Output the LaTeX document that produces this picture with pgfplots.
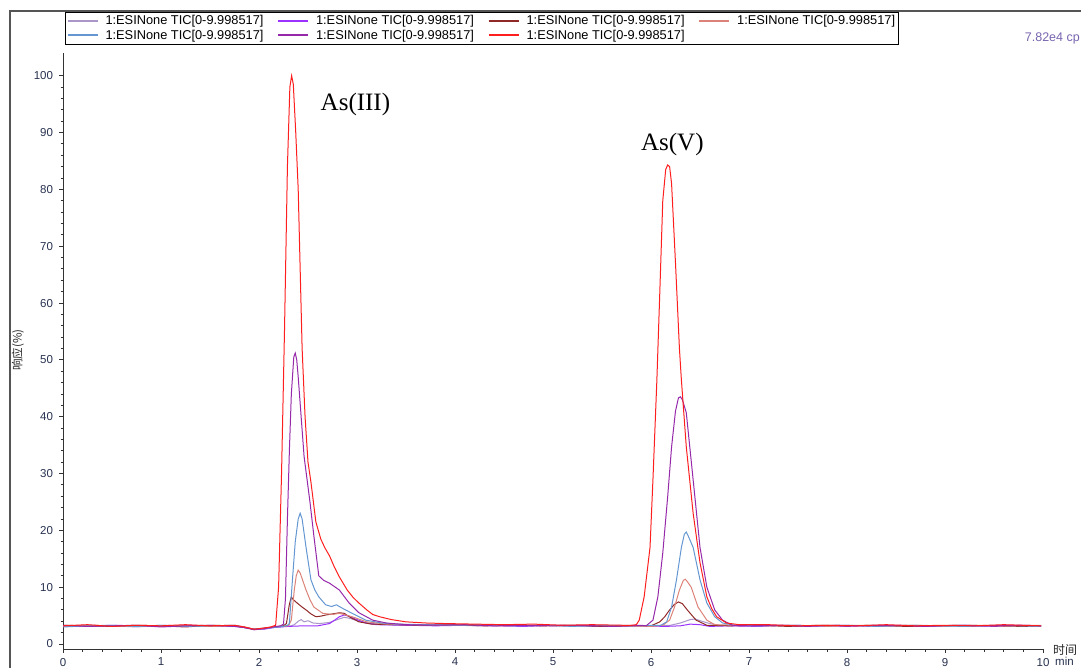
\documentclass[border=0pt]{standalone}
\usepackage{fontspec}
\setmainfont{Liberation Sans}
\newfontfamily\tnr{Liberation Serif}
\newfontfamily\cjk{Noto Sans CJK SC}
\usepackage{pgfplots}
\pgfplotsset{compat=1.18}
\definecolor{cA}{RGB}{170,150,200}
\definecolor{cB}{RGB}{155,50,255}
\definecolor{cC}{RGB}{145,40,40}
\definecolor{cD}{RGB}{220,130,120}
\definecolor{cE}{RGB}{100,150,210}
\definecolor{cF}{RGB}{150,40,170}
\definecolor{cG}{RGB}{255,30,30}
\definecolor{tk}{RGB}{40,50,80}
\definecolor{cps}{RGB}{120,100,175}
\begin{document}
\begin{tikzpicture}
\path[use as bounding box] (0,0) rectangle (1081pt,-667pt);
\draw[line width=1.6pt, color={rgb,255:red,85;green,85;blue,85}] (10pt,-680pt) -- (10pt,-11pt) -- (1100pt,-11pt);
\begin{axis}[
  at={(63pt,-649pt)}, anchor=south west,
  scale only axis, width=980pt, height=596pt,
  xmin=0, xmax=10, ymin=-0.88, ymax=104,
  axis x line=bottom, axis y line=left,
  axis line style={-, line width=1pt, color=black!80},
  xtick={0,1,...,10}, minor x tick num=4,
  ytick={0,10,...,100}, minor y tick num=4,
  tick align=outside, major tick length=4pt, minor tick length=2.5pt,
  every tick/.style={line width=0.9pt, color=black!80},
  /pgf/number format/assume math mode=true,
  ticklabel style={font=\fontsize{11.5}{13}\selectfont, text=tk},
  yticklabel style={xshift=-2.5pt},
  xticklabel style={yshift=-1.5pt},
  every axis plot/.append style={line width=1pt},
  legend columns=4,
  legend cell align=left,
  legend image code/.code={\draw[#1, line width=1.6pt] (0pt,0pt) -- (30pt,0pt);},
  legend style={at={(rel axis cs:0,1)}, anchor=south west, xshift=2pt, yshift=8.5pt,
    draw=black, line width=0.8pt, font=\fontsize{12.8}{15}\selectfont,
    inner sep=1.5pt, row sep=-0.5pt,
    /tikz/every odd column/.append style={column sep=5pt},
    /tikz/every even column/.append style={column sep=12pt}},
]
\addplot[cA] coordinates {(0,3.1)(0.25,3.3)(0.5,3.2)(0.75,3.0)(1,3.3)(1.25,3.2)(1.5,3.1)(1.75,3.3)(1.85,3.0)(1.95,2.6)(2.05,2.7)(2.15,3.0)(2.25,3.1)(2.33,3.2)(2.36,3.4)(2.40,4.0)(2.43,4.3)(2.46,3.9)(2.50,4.1)(2.55,3.7)(2.62,3.6)(2.72,3.8)(2.80,4.3)(2.87,4.7)(2.93,4.5)(3.02,4.0)(3.15,3.6)(3.3,3.4)(3.6,3.3)(3.9,3.4)(4.2,3.2)(4.5,3.3)(4.8,3.2)(5.1,3.3)(5.4,3.1)(5.7,3.3)(6.0,3.2)(6.2,3.3)(6.3,3.7)(6.4,4.3)(6.45,4.4)(6.52,4.0)(6.6,3.6)(6.7,3.3)(6.9,3.2)(7.2,3.3)(7.5,3.1)(7.8,3.3)(8.1,3.2)(8.4,3.1)(8.7,3.3)(9.0,3.2)(9.3,3.1)(9.6,3.3)(9.98,3.2)};
\addlegendentry{1:ESINone TIC[0-9.998517]}
\addplot[cB] coordinates {(0,3.2)(0.25,3.1)(0.5,3.3)(0.75,3.2)(1,3.1)(1.25,3.3)(1.5,3.2)(1.75,3.1)(1.85,2.9)(1.95,2.6)(2.05,2.6)(2.15,2.9)(2.3,3.1)(2.45,3.2)(2.6,3.2)(2.72,3.6)(2.78,4.3)(2.82,4.8)(2.87,5.1)(2.92,4.9)(2.97,4.5)(3.09,3.7)(3.2,3.4)(3.5,3.3)(3.8,3.2)(4.1,3.3)(4.4,3.2)(4.7,3.1)(5.0,3.3)(5.3,3.2)(5.6,3.1)(5.9,3.2)(6.15,3.1)(6.3,3.2)(6.4,3.5)(6.5,3.4)(6.6,3.1)(6.8,3.2)(7.1,3.1)(7.4,3.3)(7.7,3.2)(8.0,3.1)(8.3,3.3)(8.6,3.2)(8.9,3.1)(9.2,3.3)(9.5,3.1)(9.8,3.3)(9.98,3.2)};
\addlegendentry{1:ESINone TIC[0-9.998517]}
\addplot[cC] coordinates {(0,3.3)(0.25,3.2)(0.5,3.1)(0.75,3.3)(1,3.2)(1.25,3.0)(1.5,3.3)(1.75,3.2)(1.85,2.9)(1.95,2.6)(2.05,2.8)(2.15,3.0)(2.25,3.2)(2.28,3.6)(2.31,7)(2.33,8.3)(2.35,7.8)(2.39,7.2)(2.44,6.5)(2.48,6.0)(2.53,5.3)(2.58,4.8)(2.63,4.9)(2.68,5.1)(2.75,5.3)(2.82,5.5)(2.87,5.4)(2.92,4.8)(3.02,3.9)(3.15,3.5)(3.4,3.4)(3.7,3.3)(4.0,3.4)(4.3,3.2)(4.6,3.3)(4.9,3.2)(5.2,3.3)(5.5,3.1)(5.8,3.2)(6.0,3.2)(6.09,3.9)(6.14,4.8)(6.19,6.0)(6.24,7.0)(6.28,7.4)(6.32,7.1)(6.37,6.0)(6.46,4.2)(6.57,3.3)(6.8,3.2)(7.1,3.3)(7.4,3.1)(7.7,3.3)(8.0,3.2)(8.3,3.3)(8.6,3.1)(8.9,3.2)(9.2,3.3)(9.5,3.2)(9.8,3.1)(9.98,3.2)};
\addlegendentry{1:ESINone TIC[0-9.998517]}
\addplot[cD] coordinates {(0,3.2)(0.25,3.3)(0.5,3.2)(0.75,3.1)(1,3.2)(1.25,3.3)(1.5,3.1)(1.75,3.2)(1.85,3.0)(1.95,2.6)(2.05,2.7)(2.15,3.0)(2.25,3.1)(2.30,3.2)(2.33,4.2)(2.36,9.5)(2.38,12)(2.40,13)(2.42,12.5)(2.45,11)(2.48,9.5)(2.52,7.8)(2.56,6.5)(2.65,5.4)(2.75,5.2)(2.82,5.4)(2.95,4.8)(3.1,3.9)(3.3,3.5)(3.6,3.4)(3.9,3.3)(4.2,3.4)(4.5,3.2)(4.8,3.3)(5.1,3.2)(5.4,3.3)(5.7,3.2)(6.0,3.1)(6.12,3.3)(6.19,4.2)(6.24,6.5)(6.29,9.5)(6.33,11.2)(6.35,11.4)(6.37,11.0)(6.41,10.0)(6.48,6.5)(6.57,4.2)(6.65,3.4)(6.9,3.3)(7.2,3.2)(7.5,3.3)(7.8,3.1)(8.1,3.3)(8.4,3.2)(8.7,3.3)(9.0,3.1)(9.3,3.3)(9.6,3.2)(9.98,3.3)};
\addlegendentry{1:ESINone TIC[0-9.998517]}
\addplot[cE] coordinates {(0,3.0)(0.25,3.2)(0.5,3.3)(0.75,3.1)(1,3.3)(1.25,3.1)(1.5,3.2)(1.75,3.3)(1.85,2.9)(1.95,2.6)(2.05,2.7)(2.15,2.9)(2.25,3.1)(2.29,3.3)(2.31,3.6)(2.34,11)(2.37,18)(2.40,22)(2.42,23)(2.44,22)(2.46,19.5)(2.48,17)(2.53,11.3)(2.57,9.5)(2.61,8.3)(2.68,6.9)(2.74,6.6)(2.79,6.9)(2.85,6.3)(2.95,5.4)(3.09,4.2)(3.25,3.7)(3.4,3.5)(3.7,3.4)(4.0,3.3)(4.3,3.4)(4.6,3.2)(4.9,3.3)(5.2,3.1)(5.5,3.3)(5.8,3.2)(6.1,3.3)(6.16,3.9)(6.21,6.5)(6.26,11.3)(6.31,17)(6.34,19.3)(6.36,19.7)(6.38,19)(6.43,17)(6.5,11.3)(6.57,7.2)(6.65,4.8)(6.73,3.7)(6.85,3.3)(7.1,3.2)(7.4,3.3)(7.7,3.2)(8.0,3.3)(8.3,3.1)(8.6,3.3)(8.9,3.2)(9.2,3.1)(9.5,3.3)(9.8,3.2)(9.98,3.1)};
\addlegendentry{1:ESINone TIC[0-9.998517]}
\addplot[cF] coordinates {(0,3.3)(0.25,3.1)(0.5,3.2)(0.75,3.3)(1,3.0)(1.25,3.2)(1.5,3.3)(1.75,3.1)(1.85,2.9)(1.95,2.5)(2.05,2.7)(2.15,3.0)(2.22,3.2)(2.25,3.5)(2.27,8)(2.29,22)(2.31,34)(2.33,44)(2.355,50.5)(2.37,51.2)(2.385,50)(2.40,47)(2.43,40)(2.46,33)(2.49,29)(2.52,25)(2.56,19)(2.61,12)(2.66,11.2)(2.72,10.7)(2.82,9.5)(2.92,7.2)(3.02,5.5)(3.16,4.2)(3.3,3.7)(3.5,3.4)(3.8,3.3)(4.1,3.4)(4.4,3.2)(4.7,3.3)(5.0,3.2)(5.3,3.3)(5.6,3.1)(5.9,3.3)(5.95,3.2)(6.02,4.2)(6.07,8.3)(6.12,16)(6.17,25.9)(6.21,34.7)(6.25,41)(6.28,43.3)(6.30,43.5)(6.32,43)(6.36,40.7)(6.43,28.9)(6.5,17)(6.57,10)(6.65,6)(6.73,4.2)(6.83,3.3)(7.0,3.2)(7.3,3.3)(7.6,3.1)(7.9,3.3)(8.2,3.2)(8.5,3.3)(8.8,3.1)(9.1,3.3)(9.4,3.2)(9.7,3.3)(9.98,3.2)};
\addlegendentry{1:ESINone TIC[0-9.998517]}
\addplot[cG] coordinates {(0,3.2)(0.25,3.4)(0.5,3.1)(0.75,3.3)(1,3.2)(1.25,3.4)(1.5,3.2)(1.75,3.3)(1.85,3.0)(1.95,2.6)(2.05,2.8)(2.12,3.0)(2.17,3.3)(2.20,10)(2.23,30)(2.26,55)(2.29,84)(2.315,98)(2.333,100)(2.35,98.5)(2.375,90)(2.40,80)(2.42,66)(2.44,52)(2.47,40)(2.50,32)(2.53,28.5)(2.58,21.5)(2.63,18.5)(2.67,17)(2.72,15.5)(2.77,13.5)(2.82,11.8)(2.9,9.5)(2.96,8.2)(3.02,7.2)(3.1,6)(3.16,5.2)(3.23,4.8)(3.35,4.3)(3.5,3.9)(3.7,3.7)(3.9,3.6)(4.2,3.5)(4.5,3.4)(4.8,3.5)(5.1,3.3)(5.4,3.4)(5.7,3.3)(5.8,3.3)(5.85,3.4)(5.88,4.2)(5.93,8.3)(5.99,17)(6.02,29)(6.06,46.5)(6.09,62)(6.12,78)(6.15,83.5)(6.17,84.3)(6.19,84)(6.21,81)(6.25,67)(6.29,52)(6.31,46.5)(6.36,34.7)(6.43,23)(6.5,14.3)(6.57,8.3)(6.62,6.2)(6.67,4.8)(6.77,3.7)(6.9,3.4)(7.2,3.4)(7.5,3.2)(7.8,3.3)(8.1,3.2)(8.4,3.4)(8.7,3.2)(9.0,3.3)(9.3,3.2)(9.6,3.4)(9.98,3.2)};
\addlegendentry{1:ESINone TIC[0-9.998517]}
\node[anchor=base west, font=\tnr\fontsize{25}{30}\selectfont] at (axis cs:2.594,93.9) {As(III)};
\node[anchor=base west, font=\tnr\fontsize{25}{30}\selectfont] at (axis cs:5.863,86.8) {As(V)};
\end{axis}
\node[anchor=east, text=cps, font=\fontsize{12.5}{14}\selectfont, inner sep=0pt] at (1080pt,-38pt) {7.82e4 cp};
\node[font=\cjk\fontsize{12}{14}\selectfont, text=black!85, inner sep=0pt] at (1065pt,-650pt) {时间};
\node[anchor=south west, font=\fontsize{11.5}{13}\selectfont, text=tk, inner sep=0pt] at (1055pt,-666pt) {min};
\node[rotate=90, font=\cjk\fontsize{11.5}{13}\selectfont, text=black!85, inner sep=0pt] at (18pt,-350pt) {响应(\%)};
\end{tikzpicture}
\end{document}
